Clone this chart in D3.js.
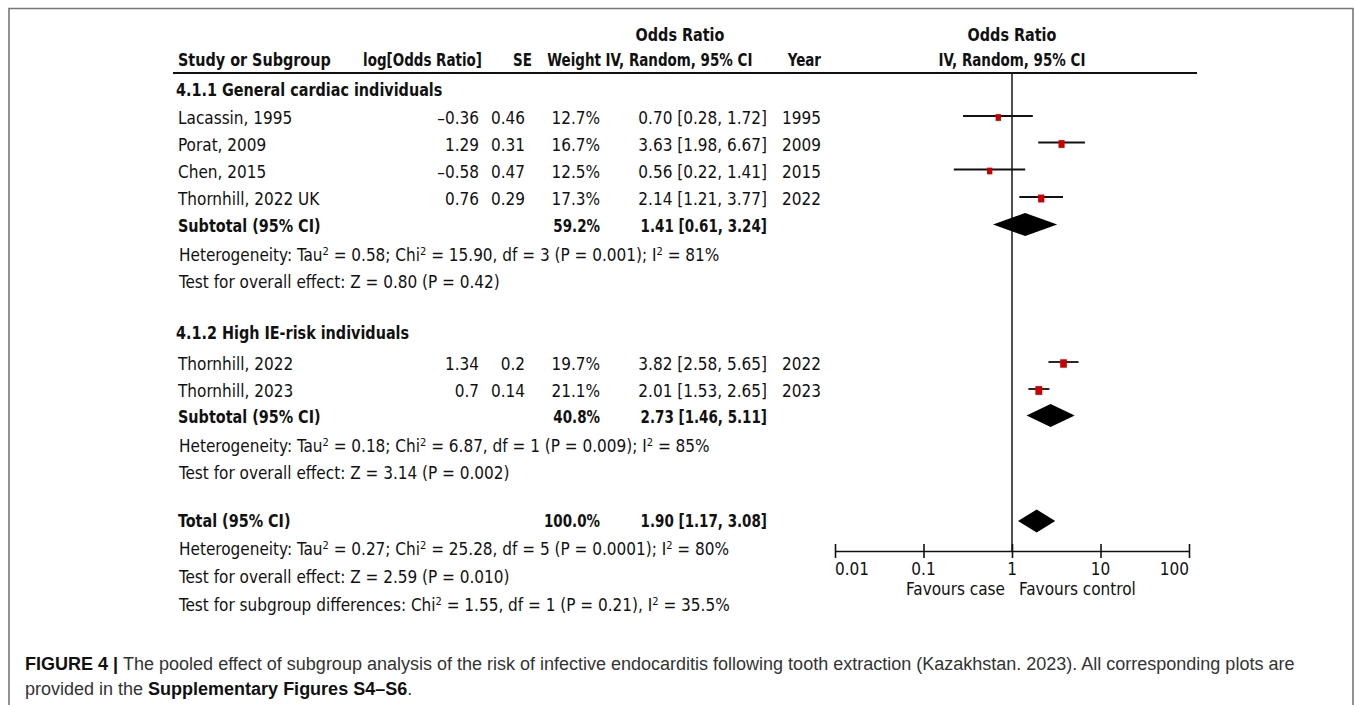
<!DOCTYPE html>
<html>
<head>
<meta charset="utf-8">
<script src="https://cdn.jsdelivr.net/npm/d3@7"></script>
<style>
  html, body { margin: 0; padding: 0; background: #fff; }
  svg { display: block; }
  .t { font-family: "DejaVu Sans Condensed", "DejaVu Sans", sans-serif; font-stretch: condensed; font-size: 17px; fill: #111; }
  .b { font-weight: bold; }
  .cap { font-family: "Liberation Sans", Arial, sans-serif; font-size: 18px; fill: #333; }
</style>
</head>
<body>
<svg id="chart" width="1355" height="705"></svg>
<script>
// ---------------- data ----------------
const studies   = ["Lacassin, 1995", "Porat, 2009", "Chen, 2015", "Thornhill, 2022 UK", "Thornhill, 2022", "Thornhill, 2023"];
const logOR     = [-0.36, 1.29, -0.58, 0.76, 1.34, 0.7];
const seVals    = [0.46, 0.31, 0.47, 0.29, 0.2, 0.14];
const weights   = [12.7, 16.7, 12.5, 17.3, 19.7, 21.1];
const orVals    = [0.70, 3.63, 0.56, 2.14, 3.82, 2.01];
const ciLow     = [0.28, 1.98, 0.22, 1.21, 2.58, 1.53];
const ciHigh    = [1.72, 6.67, 1.41, 3.77, 5.65, 2.65];
const years     = [1995, 2009, 2015, 2022, 2022, 2023];

const groupNames  = ["4.1.1 General cardiac individuals", "4.1.2 High IE-risk individuals"];
const subWeight   = [59.2, 40.8];
const subOR       = [1.41, 2.73];
const subLow      = [0.61, 1.46];
const subHigh     = [3.24, 5.11];
const subTau2     = ["0.58", "0.18"];
const subChi2     = ["15.90", "6.87"];
const subDf       = [3, 1];
const subP        = ["0.001", "0.009"];
const subI2       = ["81%", "85%"];
const subZ        = ["0.80", "3.14"];
const subZP       = ["0.42", "0.002"];

const totalWeight = 100.0;
const totalOR     = 1.90;
const totalLow    = 1.17;
const totalHigh   = 3.08;
const totalTau2   = "0.27";
const totalChi2   = "25.28";
const totalDf     = 5;
const totalP      = "0.0001";
const totalI2     = "80%";
const totalZ      = "2.59";
const totalZP     = "0.010";
const diffChi2    = "1.55";
const diffDf      = 1;
const diffP       = "0.21";
const diffI2      = "35.5%";

const tickValues  = [0.01, 0.1, 1, 10, 100];
const tickLabels  = ["0.01", "0.1", "1", "10", "100"];
const favoursLeft = "Favours case";
const favoursRight = "Favours control";

// ---------------- layout ----------------
const svg = d3.select("#chart");
const x = d3.scaleLog().domain([0.01, 100]).range([835, 1189]);
const sqW = d3.scaleSqrt().domain([0, 100]).range([0, 15]);
const sqH = d3.scaleSqrt().domain([0, 100]).range([0, 19]);

const col = { name: 178, logor: 479, se: 525, weight: 600, ci: 767, year: 821 };

const studyY = [118, 144.5, 171.5, 199, 364, 391];
const groupLabelY = [90, 333];
const subY = [226, 417];
const hetY = [255, 446];
const testY = [282, 473];
const totalY = 521;
const totHetY = 549, totTestY = 577, diffY = 605;
const axisY = 551;
const plotTop = 73;
const SQ_NUM = 0.88;   // squeeze for bold numeric/header text
const SQ_LBL = 0.94;   // squeeze for bold label text

const fmt2 = v => v.toFixed(2);
const minus = s => String(s).replace("-", "\u2013");
const ciText = (o, l, h) => `${fmt2(o)} [${fmt2(l)}, ${fmt2(h)}]`;

function txt(xp, yp, s, anchor, bold) {
  const t = svg.append("text").attr("class", "t" + (bold ? " b" : ""))
    .attr("x", xp).attr("y", yp).attr("dy", "0.36em")
    .attr("text-anchor", anchor || "start").text(s);
  if (bold) {
    const len = t.node().getComputedTextLength();
    t.attr("textLength", len * bold).attr("lengthAdjust", "spacingAndGlyphs");
  }
  return t;
}

// frame
svg.append("path").attr("d", "M9,705 V8.5 H1353 V705")
  .attr("fill", "none").attr("stroke", "#777").attr("stroke-width", 1.6);

// headers
txt(680, 35, "Odds Ratio", "middle", SQ_LBL);
txt(1012, 35, "Odds Ratio", "middle", SQ_LBL);
txt(col.name, 60, "Study or Subgroup", "start", SQ_LBL);
txt(482, 60, "log[Odds Ratio]", "end", SQ_NUM);
txt(532, 60, "SE", "end", SQ_NUM);
txt(601, 60, "Weight", "end", SQ_NUM);
txt(679, 60, "IV, Random, 95% CI", "middle", SQ_NUM);
txt(col.year, 60, "Year", "end", SQ_NUM);
txt(1012, 60, "IV, Random, 95% CI", "middle", SQ_NUM);

svg.append("line").attr("x1", 173).attr("x2", 1197).attr("y1", plotTop).attr("y2", plotTop)
  .attr("stroke", "#111").attr("stroke-width", 1.8);

// line of no effect
svg.append("line").attr("x1", x(1)).attr("x2", x(1)).attr("y1", plotTop).attr("y2", axisY)
  .attr("stroke", "#222").attr("stroke-width", 1.6);

// group labels
groupNames.forEach((g, i) => txt(176, groupLabelY[i], g, "start", SQ_LBL));

// study rows
studies.forEach((s, i) => {
  const y = studyY[i];
  txt(col.name, y, s);
  txt(col.logor, y, minus(logOR[i]), "end");
  txt(col.se, y, String(seVals[i]), "end");
  txt(col.weight, y, weights[i].toFixed(1) + "%", "end");
  txt(col.ci, y, ciText(orVals[i], ciLow[i], ciHigh[i]), "end");
  txt(col.year, y, String(years[i]), "end");
  const gy = y - 2;
  svg.append("line").attr("x1", x(ciLow[i])).attr("x2", x(ciHigh[i]))
    .attr("y1", gy).attr("y2", gy).attr("stroke", "#111").attr("stroke-width", 1.8);
  const w = sqW(weights[i]), h = sqH(weights[i]);
  svg.append("rect").attr("x", x(orVals[i]) - w / 2).attr("y", gy - h / 2 + 1.5)
    .attr("width", w).attr("height", h).attr("fill", "#cc0000");
});

function diamond(o, l, h, y) {
  const hh = 11.5;
  svg.append("path")
    .attr("d", `M${x(l)},${y} L${x(o)},${y - hh} L${x(h)},${y} L${x(o)},${y + hh} Z`)
    .attr("fill", "#000");
}

function supText(xp, y, parts) {
  const t = svg.append("text").attr("class", "t").attr("x", xp).attr("y", y).attr("dy", "0.36em");
  parts.forEach((p, k) => {
    t.append("tspan").attr("dy", k === 0 ? null : 6).text(p);
    if (k < parts.length - 1) t.append("tspan").attr("dy", -6).attr("font-size", "11px").text("2");
  });
}

subY.forEach((y, i) => {
  txt(col.name, y, "Subtotal (95% CI)", "start", SQ_LBL);
  txt(col.weight, y, subWeight[i].toFixed(1) + "%", "end", SQ_NUM);
  txt(col.ci, y, ciText(subOR[i], subLow[i], subHigh[i]), "end", SQ_NUM);
  diamond(subOR[i], subLow[i], subHigh[i], y - 1.5);
  supText(179, hetY[i], [`Heterogeneity: Tau`, ` = ${subTau2[i]}; Chi`, ` = ${subChi2[i]}, df = ${subDf[i]} (P = ${subP[i]}); I`, ` = ${subI2[i]}`]);
  txt(179, testY[i], `Test for overall effect: Z = ${subZ[i]} (P = ${subZP[i]})`);
});

// total
txt(col.name, totalY, "Total (95% CI)", "start", SQ_LBL);
txt(col.weight, totalY, totalWeight.toFixed(1) + "%", "end", SQ_NUM);
txt(col.ci, totalY, ciText(totalOR, totalLow, totalHigh), "end", SQ_NUM);
diamond(totalOR, totalLow, totalHigh, totalY);
supText(179, totHetY, [`Heterogeneity: Tau`, ` = ${totalTau2}; Chi`, ` = ${totalChi2}, df = ${totalDf} (P = ${totalP}); I`, ` = ${totalI2}`]);
txt(179, totTestY, `Test for overall effect: Z = ${totalZ} (P = ${totalZP})`);
supText(179, diffY, [`Test for subgroup differences: Chi`, ` = ${diffChi2}, df = ${diffDf} (P = ${diffP}), I`, ` = ${diffI2}`]);

// axis
const axis = d3.axisBottom(x).tickValues(tickValues).tickFormat((d, i) => tickLabels[i]).tickSize(0).tickPadding(0);
const ag = svg.append("g").attr("transform", `translate(0,${axisY})`).call(axis);
ag.select(".domain").attr("stroke", "#111").attr("stroke-width", 1.6);
ag.selectAll(".tick text").remove();
ag.selectAll(".tick").append("line").attr("y1", -7).attr("y2", 7).attr("stroke", "#111").attr("stroke-width", 1.6);
tickValues.forEach((v, i) => {
  const anchor = i === 0 ? "start" : (i === tickValues.length - 1 ? "end" : "middle");
  txt(x(v), 569, tickLabels[i], anchor);
});
txt(x(1) - 7, 589, favoursLeft, "end");
txt(x(1) + 7, 589, favoursRight, "start");

// caption
const c1 = svg.append("text").attr("class", "cap").attr("x", 25).attr("y", 670);
c1.append("tspan").attr("font-weight", "bold").attr("fill", "#111").text("FIGURE 4 | ");
c1.append("tspan").text("The pooled effect of subgroup analysis of the risk of infective endocarditis following tooth extraction (Kazakhstan. 2023). All corresponding plots are");
const c2 = svg.append("text").attr("class", "cap").attr("x", 25).attr("y", 695);
c2.append("tspan").text("provided in the ");
c2.append("tspan").attr("font-weight", "bold").attr("fill", "#111").text("Supplementary Figures S4\u2013S6");
c2.append("tspan").text(".");
</script>
</body>
</html>
